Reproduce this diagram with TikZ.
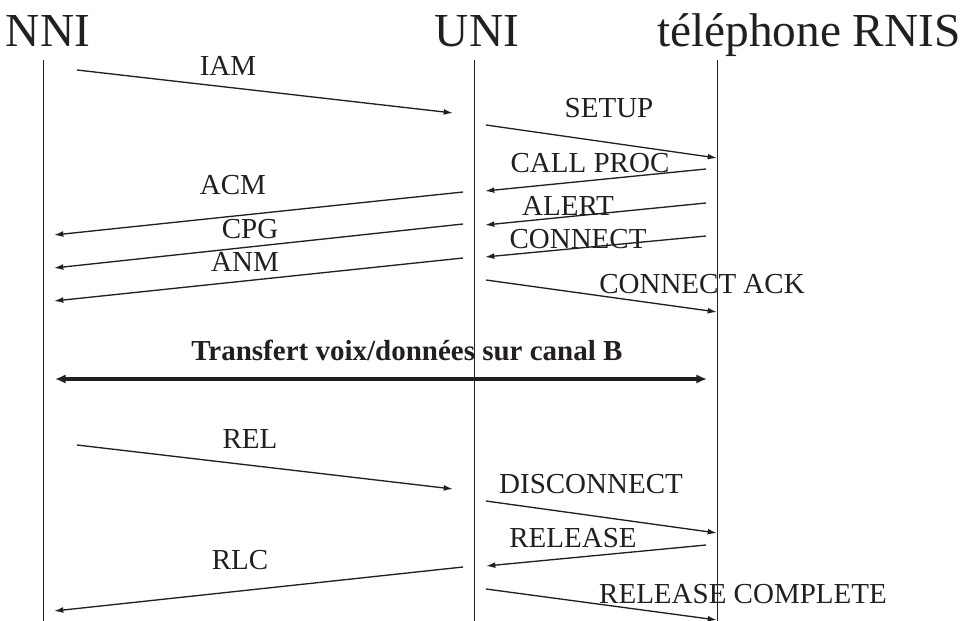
\documentclass[tikz,border=0pt]{standalone}
\usepackage{fontspec}
\setmainfont{Liberation Serif}
\usetikzlibrary{arrows.meta}
\definecolor{ink}{RGB}{35,31,32}
\begin{document}
\begin{tikzpicture}[x=0.75pt,y=-0.75pt,
  lifeline/.style={draw=ink,line width=0.75pt},
  msg/.style={draw=ink,line width=1pt,-{Latex[length=7pt,width=4.4pt]}},
  bigmsg/.style={draw=ink,line width=2.4pt,{Latex[length=8pt,width=7pt]}-{Latex[length=8pt,width=7pt]}},
  title/.style={text=ink,inner sep=0pt,anchor=base,font=\fontsize{35.5}{40}\selectfont},
  lbl/.style={text=ink,inner sep=0pt,anchor=base,font=\fontsize{21.75}{26}\selectfont},
  blbl/.style={text=ink,inner sep=0pt,anchor=base west,font=\fontsize{21.75}{26}\selectfont\bfseries}]
\useasboundingbox (0,0) rectangle (964,621);
% titles
\node[title] (tNNI) at (48,46) {NNI};
\node[title] (tUNI) at (477,46) {UNI};
\node[title,anchor=base east] (tTel) at (961,46) {téléphone RNIS};
% lifelines
\coordinate (nTop) at (43,60); \coordinate (nBot) at (43,621);
\coordinate (uTop) at (474,60); \coordinate (uBot) at (474,621);
\coordinate (pTop) at (717,60); \coordinate (pBot) at (717,621);
\draw[lifeline] (nTop) -- (nBot);
\draw[lifeline] (uTop) -- (uBot);
\draw[lifeline] (pTop) -- (pBot);
% message endpoints
\coordinate (iamA) at (77,70);   \coordinate (iamB) at (453,113);
\coordinate (setA) at (486,125); \coordinate (setB) at (717,158);
\coordinate (cpA) at (706,169);  \coordinate (cpB) at (485,191);
\coordinate (alA) at (706,203);  \coordinate (alB) at (485,225);
\coordinate (coA) at (706,236);  \coordinate (coB) at (485,257);
\coordinate (caA) at (486,280);  \coordinate (caB) at (717,312);
\coordinate (acmA) at (463,192); \coordinate (acmB) at (54,235);
\coordinate (cpgA) at (463,224); \coordinate (cpgB) at (54,268);
\coordinate (anmA) at (463,258); \coordinate (anmB) at (54,301);
\coordinate (trA) at (55,379);   \coordinate (trB) at (707,379);
\coordinate (relA) at (77,445);  \coordinate (relB) at (453,489);
\coordinate (disA) at (486,501); \coordinate (disB) at (717,533);
\coordinate (rsA) at (706,545);  \coordinate (rsB) at (486,566);
\coordinate (rlcA) at (463,567); \coordinate (rlcB) at (54,611);
\coordinate (rcA) at (486,589);  \coordinate (rcB) at (717,620);
% messages
\draw[msg] (iamA) -- (iamB);
\draw[msg] (setA) -- (setB);
\draw[msg] (cpA) -- (cpB);
\draw[msg] (alA) -- (alB);
\draw[msg] (coA) -- (coB);
\draw[msg] (caA) -- (caB);
\draw[msg] (acmA) -- (acmB);
\draw[msg] (cpgA) -- (cpgB);
\draw[msg] (anmA) -- (anmB);
\draw[bigmsg] (trA) -- (trB);
\draw[msg] (relA) -- (relB);
\draw[msg] (disA) -- (disB);
\draw[msg] (rsA) -- (rsB);
\draw[msg] (rlcA) -- (rlcB);
\draw[msg] (rcA) -- (rcB);
% labels
\node[lbl] (lIAM) at (228,75) {IAM};
\node[lbl] (lSETUP) at (609,117) {SETUP};
\node[lbl] (lCP) at (590,172) {CALL PROC};
\node[lbl] (lAL) at (568,215) {ALERT};
\node[lbl] (lCO) at (578,248) {CONNECT};
\node[lbl] (lCA) at (702,293) {CONNECT ACK};
\node[lbl] (lACM) at (233,194) {ACM};
\node[lbl] (lCPG) at (250,238) {CPG};
\node[lbl] (lANM) at (245,271) {ANM};
\node[blbl] (lTR) at (191,360) {Transfert voix/données sur canal B};
\node[lbl] (lREL) at (250,448) {REL};
\node[lbl] (lDIS) at (591,493) {DISCONNECT};
\node[lbl] (lRS) at (573,547) {RELEASE};
\node[lbl] (lRLC) at (240,569) {RLC};
\node[lbl] (lRC) at (743,603) {RELEASE COMPLETE};
\end{tikzpicture}
\end{document}
